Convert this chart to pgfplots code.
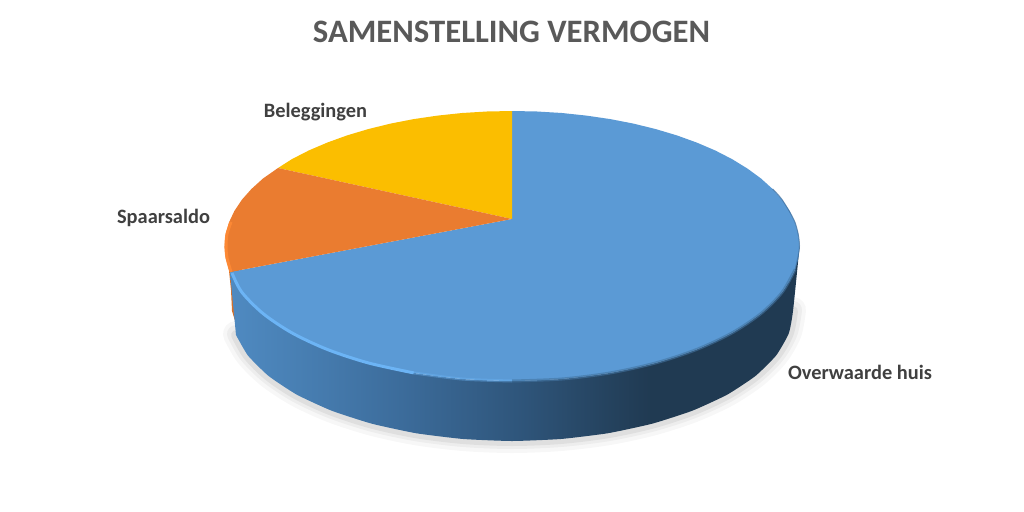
\documentclass[border=0pt]{standalone}
\usepackage{pgfplots}
\usepackage{pgfplotstable}
\usepackage{fontspec}
\setmainfont{Carlito}
\pgfplotsset{compat=1.18}

\definecolor{blauw}{HTML}{5B9AD5}
\definecolor{oranje}{HTML}{EA7C30}
\definecolor{geel}{HTML}{FBBE00}
\definecolor{titel}{HTML}{595959}
\definecolor{etiket}{HTML}{404040}
\definecolor{s1}{HTML}{4F8AC1}
\definecolor{s2}{HTML}{487FB3}
\definecolor{s3}{HTML}{3C6C9B}
\definecolor{s4}{HTML}{2E5479}
\definecolor{s5}{HTML}{25435F}
\definecolor{s6}{HTML}{203A52}
\definecolor{randblauw}{HTML}{6CB4F5}
\definecolor{randoranje}{HTML}{FF8A35}
\pgfdeclarehorizontalshading{zijkant}{100bp}{
  color(0bp)=(s1); color(25bp)=(s1); color(31bp)=(s2); color(40bp)=(s3);
  color(51bp)=(s4); color(58bp)=(s5); color(62bp)=(s6); color(100bp)=(s6)}

% onderrand van de zijkant, in beeldpixels
\pgfplotstableread{
x y
236 335
247.9 355.5
268.6 376
296.7 394.6
331.4 410.6
371.5 423.6
415.9 433.2
463.2 439
512 441
560.8 439
608.1 433.2
652.5 423.6
692.6 410.6
727.3 394.6
755.4 376
776.1 355.5
788.7 333.6
793 311
}\onderrand

\begin{document}
\begin{tikzpicture}
\begin{axis}[
  scale only axis, width=1024pt, height=511pt,
  xmin=0, xmax=1024, ymin=0, ymax=511, y dir=reverse,
  hide axis, clip=false,
]
\path (axis cs:0,0) rectangle (axis cs:1024,511);

% schaduw
\addplot[draw=black, opacity=.03, line width=26pt, line cap=round, smooth] table[x=x, y expr=\thisrow{y}-1] {\onderrand};
\addplot[draw=black, opacity=.04, line width=18pt, line cap=round, smooth] table[x=x, y expr=\thisrow{y}-1] {\onderrand};
\addplot[draw=black, opacity=.06, line width=10pt, line cap=round, smooth] table[x=x, y expr=\thisrow{y}] {\onderrand};

% zijkant oranje
\addplot[fill=oranje!90!black, draw=none] coordinates {
  (224.5,246) (228.9,269.4) (231,290) (232,311) (236,324) (240,300) (240,272)};

% zijkant blauw
\addplot[shade, shading=zijkant, draw=none, smooth, tension=.3] coordinates {
  (230,272) (241.8,292.2) (263.0,313.5) (291.8,332.8) (327.2,349.4) (368.2,362.9)
  (413.7,372.9) (462.1,379.0) (512,381) (561.9,379.0) (610.3,372.9) (655.8,362.9)
  (696.8,349.4) (732.2,332.8) (761.0,313.5) (782.2,292.2) (795.1,269.4) (799.5,246)
  (793,311) (788.7,333.6) (776.1,355.5) (755.4,376) (727.3,394.6) (692.6,410.6)
  (652.5,423.6) (608.1,433.2) (560.8,439) (512,441) (463.2,439) (415.9,433.2)
  (371.5,423.6) (331.4,410.6) (296.7,394.6) (268.6,376) (247.9,355.5) (236,335)};

% bovenvlak
\addplot[fill=blauw, draw=none] coordinates {
  (512,219) (512,111) (537.1,111.5) (561.9,113.0) (586.4,115.6) (610.3,119.1)
  (633.5,123.6) (655.8,129.1) (676.9,135.4) (696.8,142.6) (715.3,150.5)
  (732.2,159.2) (747.5,168.6) (761.0,178.5) (772.6,189.0) (782.2,199.8)
  (789.7,211.1) (795.1,222.6) (798.4,234.2) (799.5,246) (798.4,257.8)
  (795.1,269.4) (789.7,280.9) (782.2,292.2) (772.6,303) (761.0,313.5)
  (747.5,323.4) (732.2,332.8) (715.3,341.5) (696.8,349.4) (676.9,356.6)
  (655.8,362.9) (633.5,368.4) (610.3,372.9) (586.4,376.4) (561.9,379.0)
  (537.1,380.5) (512,381) (486.9,380.5) (462.1,379.0) (437.6,376.4)
  (413.7,372.9) (390.5,368.4) (368.2,362.9) (347.1,356.6) (327.2,349.4)
  (308.7,341.5) (291.8,332.8) (276.5,323.4) (263.0,313.5) (251.4,303)
  (241.8,292.2) (234.3,280.9) (230,272)};
\addplot[fill=geel, draw=none] coordinates {
  (512,219) (278,168) (291.8,159.2) (308.7,150.5) (327.2,142.6) (347.1,135.4)
  (368.2,129.1) (390.5,123.6) (413.7,119.1) (437.6,115.6) (462.1,113.0)
  (486.9,111.5) (512,111)};
\addplot[fill=oranje, draw=none] coordinates {
  (512,219) (230,272) (228.9,269.4) (225.6,257.8) (224.5,246) (225.6,234.2)
  (228.9,222.6) (234.3,211.1) (241.8,199.8) (251.4,189.0) (263.0,178.5) (278,168)};

% randen
\addplot[draw=randoranje, line width=3pt, opacity=.9, smooth] coordinates {
  (231,272) (227,258) (226,246) (227,234) (231,222)};
\addplot[draw=blauw!60!s6, line width=3pt, opacity=.6, smooth] coordinates {
  (512,381) (561.9,379.0) (610.3,372.9) (655.8,362.9) (696.8,349.4) (732.2,332.8)
  (761.0,313.5) (782.2,292.2) (795.1,269.4)};
\addplot[draw=s3, line width=1pt, opacity=.7, smooth] coordinates {
  (772.6,189.0) (782.2,199.8) (795.1,222.6) (799.5,246) (795.1,269.4)};
\addplot[draw=randblauw, line width=3pt, opacity=.4, smooth] coordinates {
  (413.7,372.9) (462.1,379.0) (512,381)};
\addplot[draw=randblauw, line width=3pt, smooth] coordinates {
  (232,273) (241.8,292.2) (263.0,313.5) (291.8,332.8) (327.2,349.4) (368.2,362.9) (413.7,372.9)};

% teksten
\node[text=titel, font=\fontsize{32.7}{36}\selectfont\bfseries] at (axis cs:511.5,32) {SAMENSTELLING VERMOGEN};
\node[text=etiket, font=\fontsize{20.4}{24}\selectfont\bfseries] at (axis cs:315.5,112) {Beleggingen};
\node[text=etiket, font=\fontsize{20.4}{24}\selectfont\bfseries] at (axis cs:163.5,218) {Spaarsaldo};
\node[text=etiket, font=\fontsize{20.4}{24}\selectfont\bfseries] at (axis cs:860,372) {Overwaarde huis};
\end{axis}
\end{tikzpicture}
\end{document}
